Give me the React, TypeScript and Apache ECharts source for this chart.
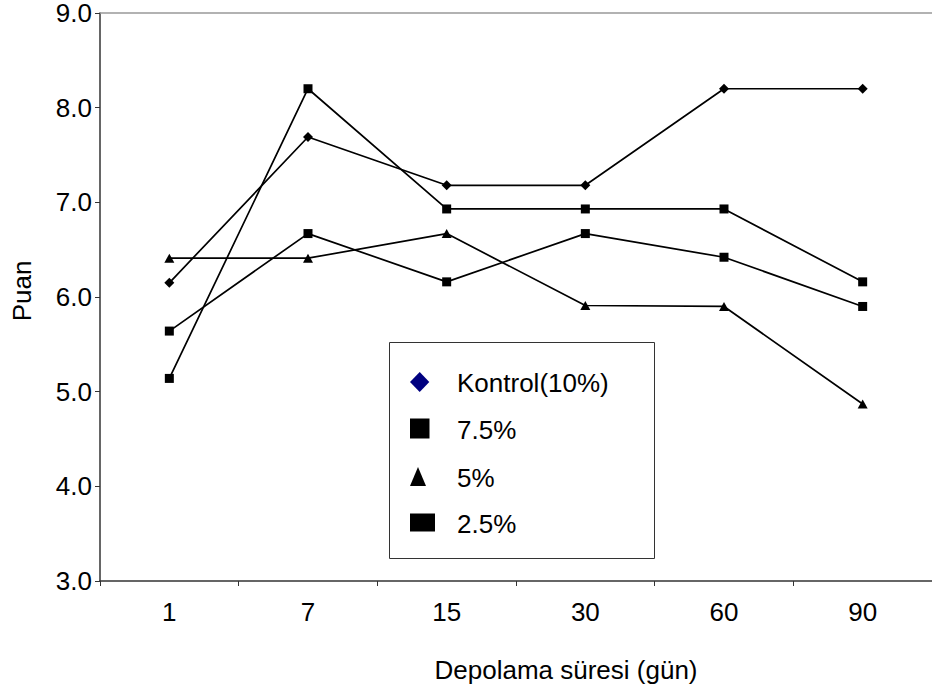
import React, { useEffect, useRef } from "react";
import * as echarts from "echarts";

// Storage time (days) on the category axis
const days = ["1", "7", "15", "30", "60", "90"];

// Sensory scores per treatment
const kontrol = [6.15, 7.69, 7.18, 7.18, 8.2, 8.2];
const pct75 = [5.14, 8.2, 6.93, 6.93, 6.93, 6.16];
const pct5 = [6.41, 6.41, 6.67, 5.91, 5.9, 4.87];
const pct25 = [5.64, 6.67, 6.16, 6.67, 6.42, 5.9];

const seriesNames = ["Kontrol(10%)", "7.5%", "5%", "2.5%"];

const FONT = "'Liberation Sans', Arial, sans-serif";

export default function App() {
  const ref = useRef<HTMLDivElement>(null);

  useEffect(() => {
    document.body.style.margin = "0";
    if (!ref.current) return;
    const chart = echarts.init(ref.current, null, { renderer: "svg" });

    const lineStyle = { color: "#000", width: 1.7 };
    const mk = (name: string, data: number[], symbol: string, symbolSize: any) => ({
      name,
      type: "line",
      data,
      symbol,
      symbolSize,
      showSymbol: true,
      lineStyle,
      itemStyle: { color: "#000" },
      emphasis: { disabled: true },
    });

    // Legend laid out inside the plot as a boxed key
    const legendX = 389;
    const legendY = 342;
    const textX = 457;
    const rows = [382, 428.5, 476.5, 522.5];

    const legendGraphics: any[] = [
      {
        type: "rect",
        shape: { x: legendX + 0.5, y: legendY + 0.5, width: 265, height: 216 },
        style: { fill: "#fff", stroke: "#333", lineWidth: 1 },
        z: 10,
      },
      {
        type: "polygon",
        shape: {
          points: [
            [419.7, rows[0] - 10],
            [429.3, rows[0]],
            [419.7, rows[0] + 10],
            [410, rows[0]],
          ],
        },
        style: { fill: "#000080" },
        z: 11,
      },
      {
        type: "rect",
        shape: { x: 410, y: rows[1] - 10, width: 19.5, height: 20 },
        style: { fill: "#000" },
        z: 11,
      },
      {
        type: "polygon",
        shape: {
          points: [
            [418, rows[2] - 9.5],
            [426, rows[2] + 9.5],
            [410, rows[2] + 9.5],
          ],
        },
        style: { fill: "#000" },
        z: 11,
      },
      {
        type: "rect",
        shape: { x: 410, y: rows[3] - 9, width: 25, height: 18 },
        style: { fill: "#000" },
        z: 11,
      },
      ...seriesNames.map((n, i) => ({
        type: "text",
        x: textX,
        y: rows[i] + 1,
        style: {
          text: n,
          fontSize: 26,
          fontFamily: FONT,
          fill: "#000",
          verticalAlign: "middle",
          align: "left",
        },
        z: 11,
      })),
    ];

    chart.setOption({
      animation: false,
      backgroundColor: "#fff",
      grid: { left: 100, top: 8, width: 839, height: 573, containLabel: false },
      xAxis: [
        {
          type: "category",
          data: days,
          boundaryGap: true,
          position: "bottom",
          axisLine: { lineStyle: { color: "#333", width: 1.5 } },
          axisTick: { show: true, length: 5, inside: false, lineStyle: { color: "#333", width: 1 } },
          axisLabel: { fontSize: 26, color: "#000", fontFamily: FONT, margin: 18 },
          splitLine: { show: false },
        },
        {
          type: "category",
          data: days,
          position: "top",
          axisLine: { lineStyle: { color: "#999", width: 1.5 } },
          axisTick: { show: false },
          axisLabel: { show: false },
          splitLine: { show: false },
        },
      ],
      yAxis: {
        type: "value",
        min: 3,
        max: 9,
        interval: 1,
        axisLine: { show: true, lineStyle: { color: "#333", width: 1.5 } },
        axisTick: { show: true, length: 5, lineStyle: { color: "#333", width: 1 } },
        axisLabel: {
          fontSize: 26,
          lineHeight: 20,
          color: "#000",
          fontFamily: FONT,
          margin: 8,
          formatter: (v: number) => v.toFixed(1),
        },
        splitLine: { show: false },
      },
      series: [
        mk(seriesNames[0], kontrol, "diamond", [10, 10]),
        mk(seriesNames[1], pct75, "rect", 9),
        mk(seriesNames[2], pct5, "triangle", [10, 9]),
        mk(seriesNames[3], pct25, "rect", 9),
      ],
      graphic: [
        {
          type: "text",
          x: 22,
          y: 291,
          rotation: Math.PI / 2,
          style: {
            text: "Puan",
            fontSize: 26,
            fontFamily: FONT,
            fill: "#000",
            align: "center",
            verticalAlign: "middle",
          },
        },
        {
          type: "text",
          x: 566,
          y: 670,
          style: {
            text: "Depolama süresi (gün)",
            fontSize: 26,
            fontFamily: FONT,
            fill: "#000",
            align: "center",
            verticalAlign: "middle",
          },
        },
        ...legendGraphics,
      ],
    });

    return () => chart.dispose();
  }, []);

  return <div ref={ref} style={{ width: 932, height: 695 }} />;
}
